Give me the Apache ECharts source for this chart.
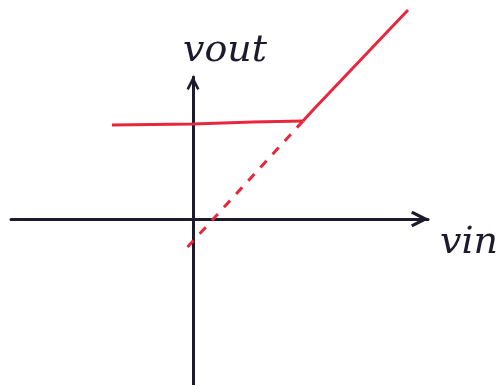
<!DOCTYPE html>
<html>
<head>
<meta charset="utf-8">
<script src="https://cdn.jsdelivr.net/npm/echarts@6/dist/echarts.min.js"></script>
<style>
  html, body { margin: 0; padding: 0; background: #fff; }
  #chart { width: 500px; height: 385px; }
</style>
</head>
<body>
<div id="chart"></div>
<script>
// sketch of vout vs vin (clipped / limited characteristic)
var flatVin = [-4.05, 0, 3, 5.5]
var flatVout = [4.7, 4.75, 4.85, 4.9]
var riseVin = [5.5, 6.0, 10.75]
var riseVout = [4.9, 5.45, 10.45]
var dashVin = [5.5, -0.5]
var dashVout = [4.9, -1.65]

var toPairs = function (xs, ys) {
  return xs.map(function (x, i) { return [x, ys[i]] })
}

var red = '#e8263c'
var ink = '#1c1a2c'
// open hand-drawn style arrow head
var chevron = 'path://M0,10 L5,0 L10,10 L8.3,10.9 L5,4.4 L1.7,10.9 Z'

var chart = echarts.init(document.getElementById('chart'))
chart.setOption({
  animation: false,
  grid: { left: 11, right: 72, top: 77, bottom: 0 },
  xAxis: {
    type: 'value', min: -9.1, max: 11.75,
    axisLine: { onZero: true, symbol: ['none', chevron], symbolSize: [24, 18], symbolOffset: [0, -8],
      lineStyle: { color: ink, width: 3 } },
    axisTick: { show: false }, axisLabel: { show: false }, splitLine: { show: false }
  },
  yAxis: {
    type: 'value', min: -8.3, max: 7.1,
    axisLine: { onZero: true, symbol: ['none', chevron], symbolSize: [21, 14], symbolOffset: [0, -6],
      lineStyle: { color: ink, width: 3 } },
    axisTick: { show: false }, axisLabel: { show: false }, splitLine: { show: false }
  },
  graphic: [
    { type: 'text', left: 183, top: 32,
      style: { text: 'vout', font: 'italic 38px "DejaVu Serif"', fill: ink } },
    { type: 'text', left: 440, top: 224,
      style: { text: 'vin', font: 'italic 38px "DejaVu Serif"', fill: ink } }
  ],
  series: [
    { type: 'line', data: toPairs(flatVin, flatVout), symbol: 'none', clip: false,
      lineStyle: { color: red, width: 3 } },
    { type: 'line', data: toPairs(riseVin, riseVout), symbol: 'none', clip: false,
      lineStyle: { color: red, width: 3 } },
    { type: 'line', data: toPairs(dashVin, dashVout), symbol: 'none', clip: false,
      lineStyle: { color: red, width: 3, type: [9, 9] } }
  ]
})
</script>
</body>
</html>
